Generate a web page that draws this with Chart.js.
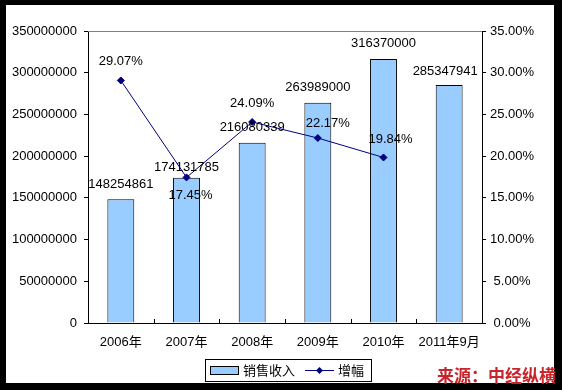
<!DOCTYPE html>
<html>
<head>
<meta charset="utf-8">
<script src="https://cdn.jsdelivr.net/npm/chart.js@4/dist/chart.umd.min.js"></script>
<style>
  html, body { margin: 0; padding: 0; background: #000; }
  #wrap { width: 562px; height: 390px; }
</style>
</head>
<body>
<div id="wrap"><canvas id="chartA" width="562" height="390"></canvas></div>
<script>
const categories = ['2006年', '2007年', '2008年', '2009年', '2010年', '2011年9月'];
const salesRevenue = [148254861, 174131785, 216080339, 263989000, 316370000, 285347941];
const growthRate = [29.07, 17.45, 24.09, 22.17, 19.84, null];
const leftTicks = [0, 50000000, 100000000, 150000000, 200000000, 250000000, 300000000, 350000000];
const rightTicks = [0, 5, 10, 15, 20, 25, 30, 35];

// label nudges (pixels), like excel placed them
const barLabelShift = [[0, -15], [0, -10], [0, -15], [0, -15], [0, -16], [-4, -14]];
const pctLabelShift = [[0, -19], [4, 18], [0, -19], [10, -15], [7, -18]];

const FONT = '"Liberation Sans", Arial, "Noto Sans CJK SC", sans-serif';
const barColor = '#99CCFF';
const lineColor = '#000080';

const framePlugin = {
    id: 'frame',
    beforeDraw(chart) {
        const ctx = chart.ctx;
        ctx.save();
        ctx.fillStyle = '#000';
        ctx.fillRect(0, 0, chart.width, chart.height);
        ctx.fillStyle = '#fff';
        ctx.fillRect(6, 5, 548, 378);
        ctx.restore();
    },
    afterDraw(chart) {
        const ctx = chart.ctx;
        const a = chart.chartArea;
        const x = chart.scales.x;
        ctx.save();
        // plot area top edge
        ctx.strokeStyle = '#808080';
        ctx.lineWidth = 1;
        ctx.beginPath();
        ctx.moveTo(a.left, a.top + 0.5);
        ctx.lineTo(a.right, a.top + 0.5);
        ctx.stroke();
        // inside ticks on category axis
        ctx.strokeStyle = '#000';
        ctx.beginPath();
        for (let i = 1; i < categories.length; i++) {
            const px = Math.round((x.getPixelForValue(i - 1) + x.getPixelForValue(i)) / 2) + 0.5;
            ctx.moveTo(px, a.bottom);
            ctx.lineTo(px, a.bottom - 4);
        }
        ctx.stroke();

        // data labels
        ctx.font = '13px ' + FONT;
        ctx.fillStyle = '#000';
        ctx.textAlign = 'center';
        ctx.textBaseline = 'middle';
        chart.getDatasetMeta(0).data.forEach((bar, i) => {
            const s = barLabelShift[i];
            ctx.fillText(String(salesRevenue[i]), bar.x + s[0], bar.y + s[1]);
        });
        chart.getDatasetMeta(1).data.forEach((pt, i) => {
            if (growthRate[i] == null) return;
            const s = pctLabelShift[i];
            ctx.fillText(growthRate[i].toFixed(2) + '%', pt.x + s[0], pt.y + s[1]);
        });

        // legend box
        ctx.strokeStyle = '#000';
        ctx.strokeRect(205.5, 359.5, 166, 22);
        ctx.fillStyle = barColor;
        ctx.fillRect(210.5, 366.5, 28, 8);
        ctx.strokeRect(210.5, 366.5, 28, 8);
        ctx.fillStyle = '#000';
        ctx.textAlign = 'left';
        ctx.font = '13px ' + FONT;
        ctx.fillText(chart.data.datasets[0].label, 243, 371);
        ctx.strokeStyle = lineColor;
        ctx.beginPath();
        ctx.moveTo(305, 370.5);
        ctx.lineTo(334, 370.5);
        ctx.stroke();
        ctx.fillStyle = lineColor;
        ctx.beginPath();
        ctx.moveTo(319.5, 367);
        ctx.lineTo(323, 370.5);
        ctx.lineTo(319.5, 374);
        ctx.lineTo(316, 370.5);
        ctx.closePath();
        ctx.fill();
        ctx.fillStyle = '#000';
        ctx.fillText(chart.data.datasets[1].label, 338, 371);

        // source note
        ctx.font = 'bold 17px "Noto Sans CJK SC", sans-serif';
        ctx.fillStyle = '#C8242C';
        ctx.textAlign = 'right';
        ctx.fillText('来源：中经纵横', 556, 376);
        ctx.restore();
    }
};

const data = {
    labels: categories,
    datasets: [{
        type: 'bar',
        label: '销售收入',
        data: salesRevenue,
        yAxisID: 'y',
        backgroundColor: barColor,
        borderColor: '#000',
        borderWidth: 1,
        barPercentage: 0.41,
        categoryPercentage: 1,
        order: 1,
    }, {
        type: 'line',
        label: '增幅',
        data: growthRate,
        yAxisID: 'y1',
        borderColor: lineColor,
        backgroundColor: lineColor,
        borderWidth: 1,
        pointStyle: 'rectRot',
        pointRadius: 3.5,
        pointHoverRadius: 3.5,
        spanGaps: false,
        order: 0,
    }],
};

const config = {
    type: 'bar',
    data: data,
    options: {
        responsive: false,
        animation: false,
        layout: {padding: {top: 31, left: 0, right: 0, bottom: 0}},
        plugins: {legend: {display: false}, tooltip: {enabled: false}},
        scales: {
            x: {
                grid: {display: false, drawTicks: false},
                border: {display: true, color: '#000', width: 1},
                ticks: {color: '#000', font: {family: FONT, size: 13}, padding: 12, maxRotation: 0, autoSkip: false},
                afterFit(s) { s.height = 67; },
            },
            y: {
                position: 'left',
                min: 0,
                max: 350000000,
                afterBuildTicks(s) { s.ticks = leftTicks.map(v => ({value: v})); },
                grid: {drawOnChartArea: false, tickLength: 4, color: '#000'},
                border: {display: true, color: '#000', width: 1},
                ticks: {color: '#000', font: {family: FONT, size: 13}, padding: 7,
                    callback: v => String(v)},
                afterFit(s) { s.width = 88; },
            },
            y1: {
                position: 'right',
                min: 0,
                max: 35,
                afterBuildTicks(s) { s.ticks = rightTicks.map(v => ({value: v})); },
                grid: {drawOnChartArea: false, tickLength: 4, color: '#000'},
                border: {display: true, color: '#000', width: 1},
                ticks: {color: '#000', font: {family: FONT, size: 13}, padding: 4, crossAlign: 'center',
                    callback: v => v.toFixed(2) + '%'},
                afterFit(s) { s.width = 80; },
            },
        },
    },
    plugins: [framePlugin],
};

const chartEle = document.getElementById('chartA').getContext('2d');
const chartA = new Chart(chartEle, config);
</script>
</body>
</html>
